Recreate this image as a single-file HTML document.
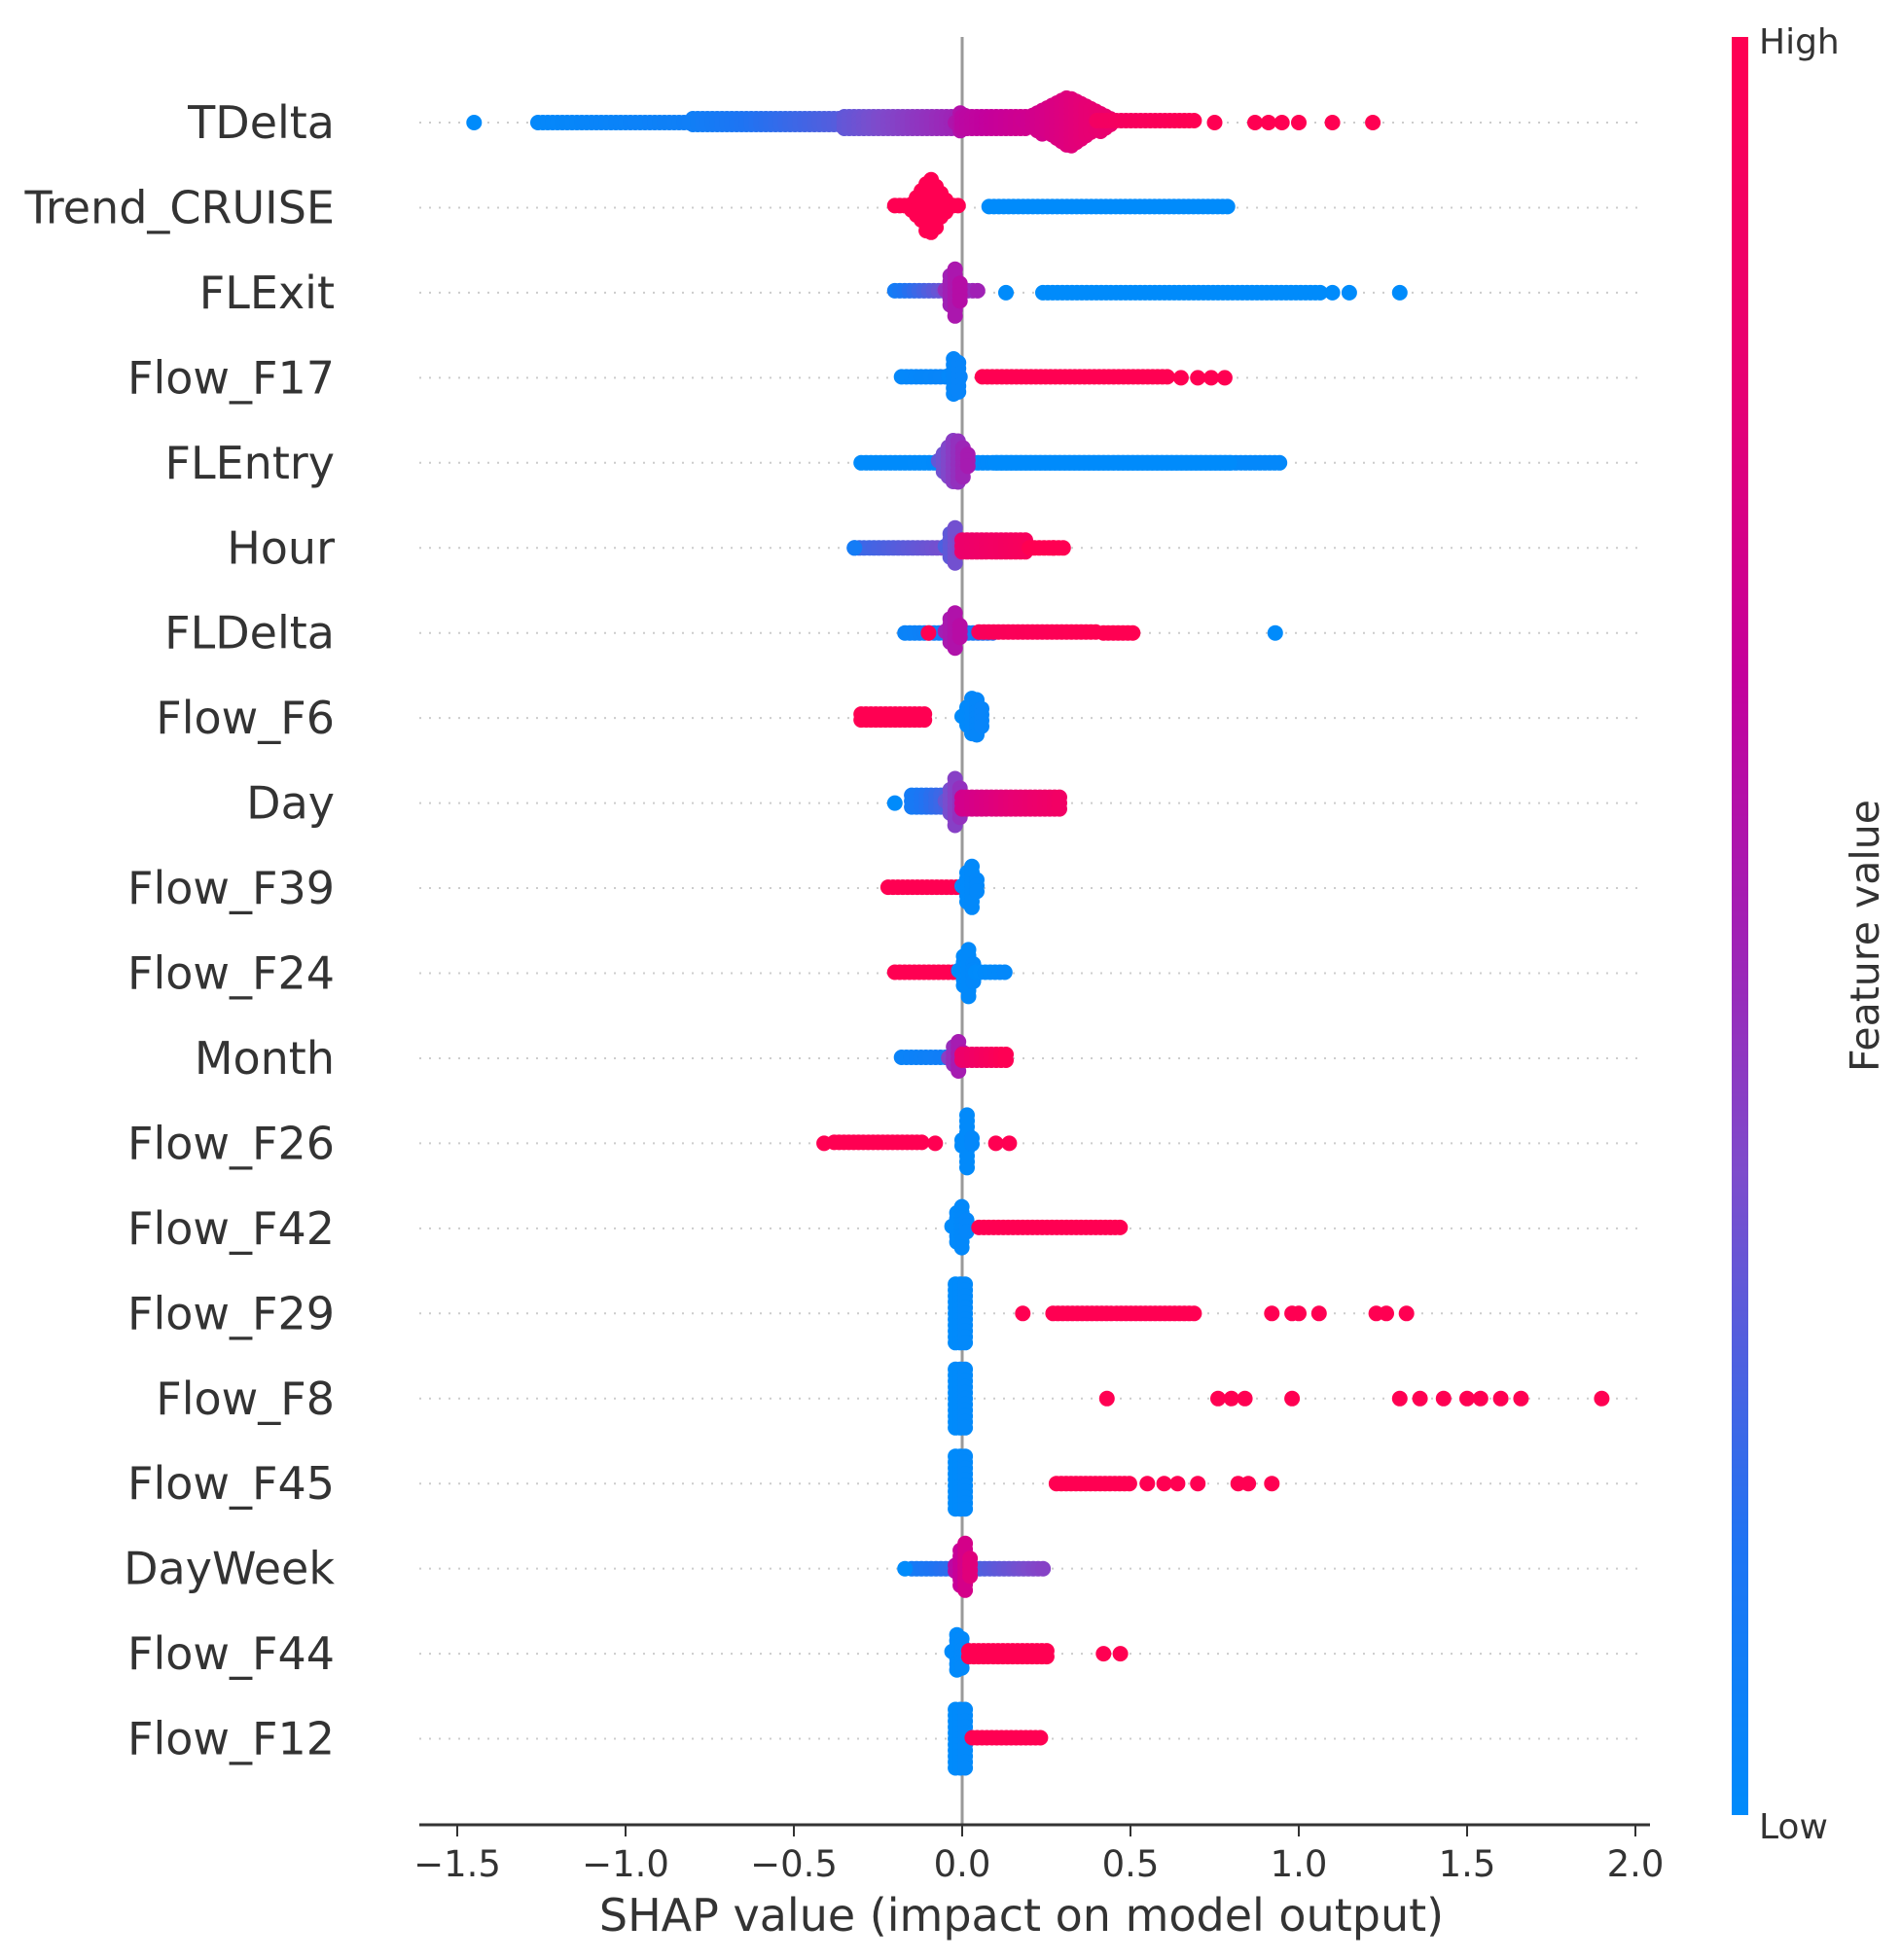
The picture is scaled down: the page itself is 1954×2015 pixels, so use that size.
<!DOCTYPE html>
<html><head><meta charset="utf-8"><style>
html,body{margin:0;padding:0;background:#fff}
svg{display:block}
text{font-family:"DejaVu Sans","Liberation Sans",sans-serif;fill:#333}
</style></head><body>
<svg id="chart" width="1954" height="2015" viewBox="0 0 1954 2015">
<defs>
<linearGradient id="cbar" x1="0" y1="1" x2="0" y2="0">
<stop offset="0" stop-color="#008bfb"/><stop offset="0.15" stop-color="#1e74f3"/><stop offset="0.36" stop-color="#7d4ccc"/><stop offset="0.5" stop-color="#a21fb4"/><stop offset="0.64" stop-color="#c4009c"/><stop offset="0.8" stop-color="#e60074"/><stop offset="1" stop-color="#ff0052"/>
</linearGradient>
</defs>
<g id="grid"></g>
<line x1="989" y1="38" x2="989" y2="1876" stroke="#999" stroke-width="3"/>
<g id="dots"></g>
<g id="labels"></g>
<line x1="431" y1="1876" x2="1696" y2="1876" stroke="#333" stroke-width="3"/>
<g id="xticks"></g>
<text x="1050" y="1985" font-size="46" text-anchor="middle">SHAP value (impact on model output)</text>
<rect x="1780" y="38" width="17" height="1828" fill="url(#cbar)"/>
<text x="1808" y="55" font-size="36">High</text>
<text x="1808" y="1890" font-size="36">Low</text>
<text transform="translate(1931,962) rotate(-90)" font-size="41" text-anchor="middle">Feature value</text>
</svg>
<script>
const features = ["TDelta","Trend_CRUISE","FLExit","Flow_F17","FLEntry","Hour","FLDelta","Flow_F6","Day","Flow_F39","Flow_F24","Month","Flow_F26","Flow_F42","Flow_F29","Flow_F8","Flow_F45","DayWeek","Flow_F44","Flow_F12"];
const xTicks = [-1.5,-1.0,-0.5,0.0,0.5,1.0,1.5,2.0];
const xTickLabels = ["\u22121.5","\u22121.0","\u22120.5","0.0","0.5","1.0","1.5","2.0"];
// dense regions per feature: [shapFrom, shapTo, halfSpread, colorFrom, colorTo, diamond(0/1)]
const blobs = [
 [[-1.26,-0.8,6,0.02,0.08,0],[-0.8,-0.3,12,0.08,0.3,0],[-0.35,0,14,0.3,0.5,0],[-0.02,0.02,22,0.55,0.6,1],[0,0.2,14,0.6,0.7,0],[0.18,0.45,34,0.68,0.85,1],[0.4,0.7,10,0.9,1,0]],
 [[-0.2,0,10,1,1,0],[-0.15,-0.04,38,1,1,1],[0.08,0.8,9,0,0,0]],
 [[-0.2,0.05,10,0.1,0.5,0],[-0.05,0,36,0.45,0.6,1],[0.24,1.07,6,0,0,0]],
 [[-0.18,0,9,0.02,0.05,0],[-0.04,0,34,0.02,0.05,1],[0.06,0.62,9,1,1,0]],
 [[-0.3,0.95,6,0,0.02,0],[-0.07,0.03,34,0.3,0.55,1],[0.1,0.8,7,0,0,0]],
 [[-0.32,-0.05,7,0.2,0.35,0],[-0.05,0,32,0.25,0.4,1],[0,0.2,16,0.85,0.95,0],[0.2,0.3,6,1,1,0]],
 [[-0.17,0.1,8,0.05,0.15,0],[-0.05,0,32,0.5,0.6,1],[0.05,0.4,9,0.95,1,0],[0.42,0.52,7,1,1,0]],
 [[-0.3,-0.1,12,1,1,0],[0,0.07,32,0,0.05,1]],
 [[-0.15,0,16,0.1,0.3,0],[-0.05,0.01,34,0.3,0.5,1],[0,0.3,14,0.7,0.9,0]],
 [[-0.22,0,9,1,1,0],[0,0.05,34,0,0.02,1]],
 [[-0.2,0,9,1,1,0],[-0.01,0.04,36,0,0.02,1],[0.04,0.13,9,0,0.02,0]],
 [[-0.18,0,9,0.05,0.1,0],[-0.04,0.01,28,0.4,0.6,1],[0,0.14,12,0.85,1,0]],
 [[-0.38,-0.12,9,1,1,0],[0,0.03,38,0,0.02,1]],
 [[-0.03,0.02,34,0,0.03,1],[0.05,0.47,9,1,1,0]],
 [[-0.02,0.02,38,0,0.02,0],[0.27,0.7,7,1,1,0]],
 [[-0.02,0.02,38,0,0.02,0]],
 [[-0.02,0.02,36,0,0.02,0],[0.28,0.5,7,1,1,0]],
 [[-0.15,0.25,7,0.1,0.4,0],[-0.02,0.03,38,0.6,0.8,1]],
 [[-0.03,0.01,34,0,0.02,1],[0.02,0.26,11,1,1,0]],
 [[-0.02,0.02,38,0,0.02,0],[0.03,0.24,9,1,1,0]]
];
// isolated points per feature: [shapValue, color]
const points = [
 [[-1.45,0],[0.75,1],[0.87,1],[0.91,1],[0.95,1],[1.0,1],[1.1,1],[1.22,1]],
 [],
 [[0.13,0],[1.1,0],[1.15,0],[1.3,0]],
 [[0.65,1],[0.7,1],[0.74,1],[0.78,1]],
 [],
 [[-0.32,0.1],[0.27,1],[0.3,1]],
 [[0.93,0],[-0.1,1]],
 [],
 [[-0.2,0]],
 [],[],[],
 [[-0.41,1],[-0.08,1],[0.1,1],[0.14,1]],
 [],
 [[0.18,1],[0.92,1],[0.98,1],[1.0,1],[1.06,1],[1.23,1],[1.26,1],[1.32,1]],
 [[0.43,1],[0.76,1],[0.8,1],[0.84,1],[0.98,1],[1.3,1],[1.36,1],[1.43,1],[1.5,1],[1.54,1],[1.6,1],[1.66,1],[1.9,1]],
 [[0.55,1],[0.6,1],[0.64,1],[0.7,1],[0.82,1],[0.85,1],[0.92,1]],
 [[-0.17,0]],
 [[0.42,1],[0.47,1]],
 []
];
const NS="http://www.w3.org/2000/svg";
const X0=989, PXU=346, Y0=126, DY=87.45;
function xs(v){return X0+v*PXU;}
function ys(i){return Y0+i*DY;}
const stops=[[0,[0,139,251]],[0.15,[30,116,243]],[0.36,[125,76,204]],[0.5,[162,31,180]],[0.64,[196,0,156]],[0.8,[230,0,116]],[1,[255,0,82]]];
function col(t){t=Math.max(0,Math.min(1,t));for(let k=1;k<stops.length;k++){if(t<=stops[k][0]){const a=stops[k-1],b=stops[k];const f=(t-a[0])/(b[0]-a[0]);const c=a[1].map((v,j)=>Math.round(v+(b[1][j]-v)*f));return `rgb(${c[0]},${c[1]},${c[2]})`;}}return "rgb(255,0,82)";}
const grid=document.getElementById('grid'), dots=document.getElementById('dots'), labels=document.getElementById('labels'), xt=document.getElementById('xticks');
function circ(cx,cy,c,name){const e=document.createElementNS(NS,'circle');e.setAttribute('cx',cx.toFixed(1));e.setAttribute('cy',cy.toFixed(1));e.setAttribute('r',8);e.setAttribute('fill',c);


dots.appendChild(e);}
features.forEach((f,i)=>{
 const y=ys(i);
 const l=document.createElementNS(NS,'line');l.setAttribute('x1',431);l.setAttribute('x2',1690);l.setAttribute('y1',y);l.setAttribute('y2',y);l.setAttribute('stroke','#ccc');l.setAttribute('stroke-width','2');l.setAttribute('stroke-dasharray','2 8');
 
 
 grid.appendChild(l);
 const t=document.createElementNS(NS,'text');t.setAttribute('x',344);t.setAttribute('y',y+16);t.setAttribute('font-size','46');t.setAttribute('text-anchor','end');t.textContent=f;
 
 
 labels.appendChild(t);
 blobs[i].forEach(b=>{
  const x1=xs(b[0]),x2=xs(b[1]);const w=Math.max(x2-x1,1);
  for(let x=x1;x<=x2+0.1;x+=5){
   const tt=(x-x1)/w;let h=b[2];
   if(b[5])h=b[2]*(0.3+0.7*(1-Math.abs(tt-0.5)*2));
   h=Math.max(h-8,0);
   const c=col(b[3]+(b[4]-b[3])*tt);
   for(let dy=-h;dy<=h+0.1;dy+=Math.max(6,h/6)){circ(x,y+dy,c,'dot-'+f.toLowerCase());}
  }
 });
 points[i].forEach(p=>circ(xs(p[0]),y,col(p[1]),'dot-'+f.toLowerCase()));
});
xTicks.forEach((v,k)=>{
 const x=xs(v);
 const l=document.createElementNS(NS,'line');l.setAttribute('x1',x);l.setAttribute('x2',x);l.setAttribute('y1',1876);l.setAttribute('y2',1888);l.setAttribute('stroke','#333');l.setAttribute('stroke-width','2');
 
 
 xt.appendChild(l);
 const t=document.createElementNS(NS,'text');t.setAttribute('x',x);t.setAttribute('y',1929);t.setAttribute('font-size','37');t.setAttribute('text-anchor','middle');t.textContent=xTickLabels[k];
 
 
 xt.appendChild(t);
});
</script>
</body></html>
